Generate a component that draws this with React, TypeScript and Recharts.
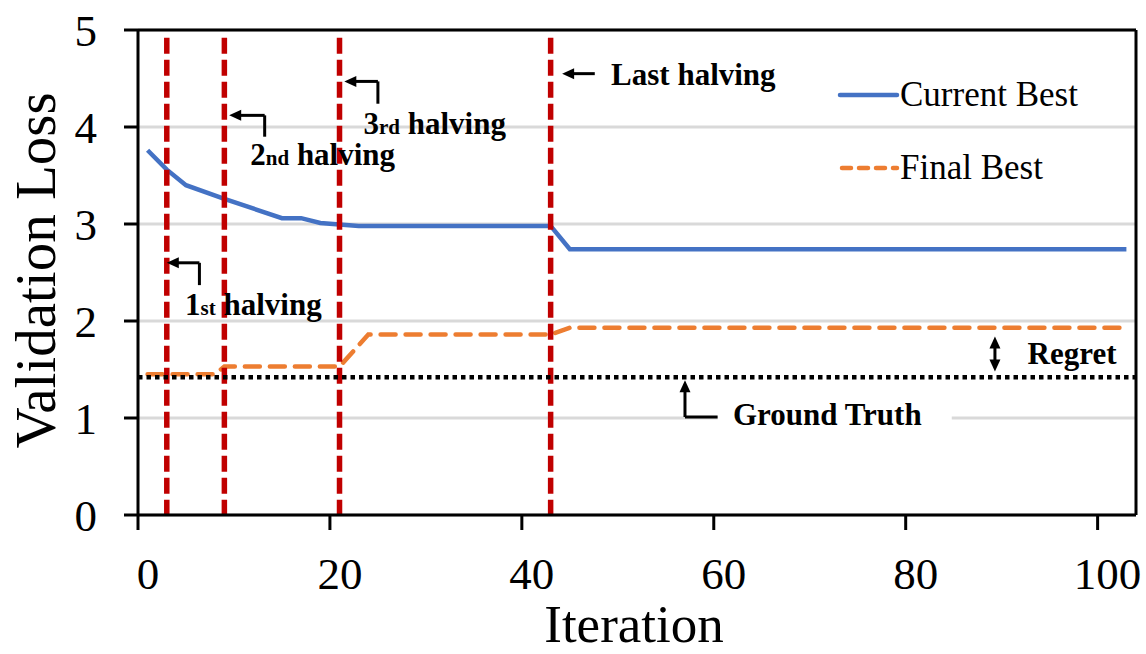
import React from 'react';
import {
  LineChart, Line, XAxis, YAxis, CartesianGrid, ReferenceLine,
  ReferenceDot, ReferenceArea, Legend,
} from 'recharts';

const FONT = '"Liberation Serif", "Times New Roman", serif';

// readings
const currentIters = [1, 3, 5, 9, 15, 17, 19, 23, 43, 45, 103];
const currentBest = [3.76, 3.56, 3.4, 3.26, 3.06, 3.06, 3.01, 2.98, 2.98, 2.74, 2.74];

const finalIters = [1, 8, 9, 21, 24, 43, 45, 103];
const finalBest = [1.45, 1.45, 1.53, 1.53, 1.86, 1.86, 1.93, 1.93];

const groundTruth = 1.42;
const halvingIters = [3, 9, 21, 43];

const xTicks = [0, 20, 40, 60, 80, 100];
const yTicks = [0, 1, 2, 3, 4, 5];

const currentData = currentIters.map((it, i) => ({ iter: it, value: currentBest[i] }));
const finalData = finalIters.map((it, i) => ({ iter: it, value: finalBest[i] }));

type Pt = { x: number; y: number };

// arrow drawn between two points, head at the second (or both) end
const arrow = (heads: 'none' | 'end' | 'both') => (p: any) => {
  const { x1, y1, x2, y2 } = p;
  const ang = Math.atan2(y2 - y1, x2 - x1);
  const L = 12;
  const W = 5.5;
  const head = (tx: number, ty: number, a: number) => {
    const bx = tx - L * Math.cos(a);
    const by = ty - L * Math.sin(a);
    const px = -Math.sin(a) * W;
    const py = Math.cos(a) * W;
    return `${tx},${ty} ${bx + px},${by + py} ${bx - px},${by - py}`;
  };
  const sx = heads === 'both' ? x1 + (L - 2) * Math.cos(ang) : x1;
  const sy = heads === 'both' ? y1 + (L - 2) * Math.sin(ang) : y1;
  const ex = heads !== 'none' ? x2 - (L - 2) * Math.cos(ang) : x2;
  const ey = heads !== 'none' ? y2 - (L - 2) * Math.sin(ang) : y2;
  return (
    <g>
      <line x1={sx} y1={sy} x2={ex} y2={ey} stroke="#000" strokeWidth={3} />
      {heads !== 'none' && <polygon points={head(x2, y2, ang)} fill="#000" />}
      {heads === 'both' && <polygon points={head(x1, y1, ang + Math.PI)} fill="#000" />}
    </g>
  );
};

const note = (parts: [string, number][]) => (p: any) => (
  <text x={p.cx} y={p.cy} fontFamily={FONT} fontWeight="bold" fill="#000" fontSize={31}>
    {parts.map(([s, fs], i) => (
      <tspan key={i} fontSize={fs}>{s}</tspan>
    ))}
  </text>
);

const seg = (a: Pt, b: Pt) => [a, b];

const renderLegend = () => (
  <svg width={270} height={120}>
    <line x1={4} y1={20} x2={61} y2={20} stroke="#4472c4" strokeWidth={4.5} strokeLinecap="round" />
    <text x={64} y={31} fontFamily={FONT} fontSize={35} fill="#000">Current Best</text>
    <line x1={6} y1={93} x2={61} y2={93} stroke="#ed7d31" strokeWidth={4.5}
      strokeDasharray="9 8" strokeLinecap="round" />
    <text x={64} y={104} fontFamily={FONT} fontSize={35} fill="#000">Final Best</text>
  </svg>
);

export default function App() {
  return (
    <div style={{ position: 'absolute', left: 0, top: 0, background: '#fff' }}>
      <LineChart width={1146} height={654} margin={{ top: 30, right: 10, left: 78, bottom: 79 }}>
        <CartesianGrid vertical={false} stroke="#d9d9d9" strokeWidth={3} />
        <XAxis
          dataKey="iter"
          type="number"
          domain={[0, 104]}
          ticks={xTicks}
          allowDuplicatedCategory={false}
          height={60}
          tickSize={15}
          tickMargin={27}
          stroke="#000"
          strokeWidth={3}
          tick={{ fontSize: 45, fill: '#000', fontFamily: FONT, dx: 10 }}
          label={{
            content: (p: any) => (
              <text x={p.viewBox.x + p.viewBox.width / 2 - 3} y={642} textAnchor="middle"
                fontFamily={FONT} fontSize={53} fill="#000">Iteration</text>
            ),
          }}
        />
        <YAxis
          type="number"
          domain={[0, 5]}
          ticks={yTicks}
          width={60}
          tickSize={14}
          tickMargin={27}
          stroke="#000"
          strokeWidth={3}
          tick={{ fontSize: 45, fill: '#000', fontFamily: FONT }}
          label={{
            content: (p: any) => {
              const cx = p.viewBox.x - 43;
              const cy = p.viewBox.y + p.viewBox.height / 2 - 2;
              return (
                <text x={cx} y={cy} textAnchor="middle" dominantBaseline="central"
                  transform={`rotate(-90 ${cx} ${cy})`}
                  fontFamily={FONT} fontSize={57} fill="#000">Validation Loss</text>
              );
            },
          }}
        />

        {/* frame top / right */}
        <ReferenceLine y={5} stroke="#000" strokeWidth={3} />
        <ReferenceLine x={104} stroke="#000" strokeWidth={3} />

        <ReferenceArea x1={60.4} x2={84.8} y1={0.85} y2={1.15} fill="#fff" fillOpacity={1} stroke="none" />

        <Line data={finalData} dataKey="value" name="Final Best" type="linear" stroke="#ed7d31"
          strokeWidth={4.5} strokeDasharray="15 10" strokeLinecap="round" dot={false}
          isAnimationActive={false} />
        <Line data={currentData} dataKey="value" name="Current Best" type="linear" stroke="#4472c4"
          strokeWidth={4.5} dot={false} isAnimationActive={false} />

        {halvingIters.map((it) => (
          <ReferenceLine key={it} segment={seg({ x: it, y: 4.92 }, { x: it, y: 0 })}
            stroke="#c00000" strokeWidth={5.5} strokeDasharray="16 6" />
        ))}

        <ReferenceLine y={groundTruth} stroke="#000" strokeWidth={4.5} strokeDasharray="4.5 4" />

        {/* 1st halving */}
        <ReferenceLine segment={seg({ x: 6.4, y: 2.37 }, { x: 6.4, y: 2.6 })} shape={arrow('none')} />
        <ReferenceLine segment={seg({ x: 6.4, y: 2.6 }, { x: 3, y: 2.6 })} shape={arrow('end')} />
        <ReferenceDot x={4.9} y={2.06} r={1} shape={note([['1', 31], ['st', 21], [' halving', 31]])} />

        {/* 2nd halving */}
        <ReferenceLine segment={seg({ x: 13.2, y: 3.9 }, { x: 13.2, y: 4.12 })} shape={arrow('none')} />
        <ReferenceLine segment={seg({ x: 13.2, y: 4.12 }, { x: 9.5, y: 4.12 })} shape={arrow('end')} />
        <ReferenceDot x={11.7} y={3.61} r={1} shape={note([['2', 31], ['nd', 21], [' halving', 31]])} />

        {/* 3rd halving */}
        <ReferenceLine segment={seg({ x: 25.0, y: 4.24 }, { x: 25.0, y: 4.47 })} shape={arrow('none')} />
        <ReferenceLine segment={seg({ x: 25.0, y: 4.47 }, { x: 21.5, y: 4.47 })} shape={arrow('end')} />
        <ReferenceDot x={23.5} y={3.93} r={1} shape={note([['3', 31], ['rd', 21], [' halving', 31]])} />

        {/* last halving */}
        <ReferenceLine segment={seg({ x: 47.6, y: 4.55 }, { x: 44.2, y: 4.55 })} shape={arrow('end')} />
        <ReferenceDot x={49.3} y={4.43} r={1} shape={note([['Last halving', 31]])} />

        {/* regret */}
        <ReferenceLine segment={seg({ x: 89.3, y: 1.84 }, { x: 89.3, y: 1.48 })} shape={arrow('both')} />
        <ReferenceDot x={92.7} y={1.56} r={1} shape={note([['Regret', 31]])} />

        {/* ground truth */}
        <ReferenceLine segment={seg({ x: 60.4, y: 1.01 }, { x: 57.0, y: 1.01 })} shape={arrow('none')} />
        <ReferenceLine segment={seg({ x: 57.0, y: 1.01 }, { x: 57.0, y: 1.39 })} shape={arrow('end')} />
        <ReferenceDot x={62.0} y={0.93} r={1} shape={note([['Ground Truth', 31]])} />

        <Legend
          layout="horizontal"
          verticalAlign="middle"
          align="center"
          content={renderLegend}
          wrapperStyle={{ position: 'absolute', left: 836, top: 75, width: 270, height: 120 }}
        />
      </LineChart>
    </div>
  );
}
